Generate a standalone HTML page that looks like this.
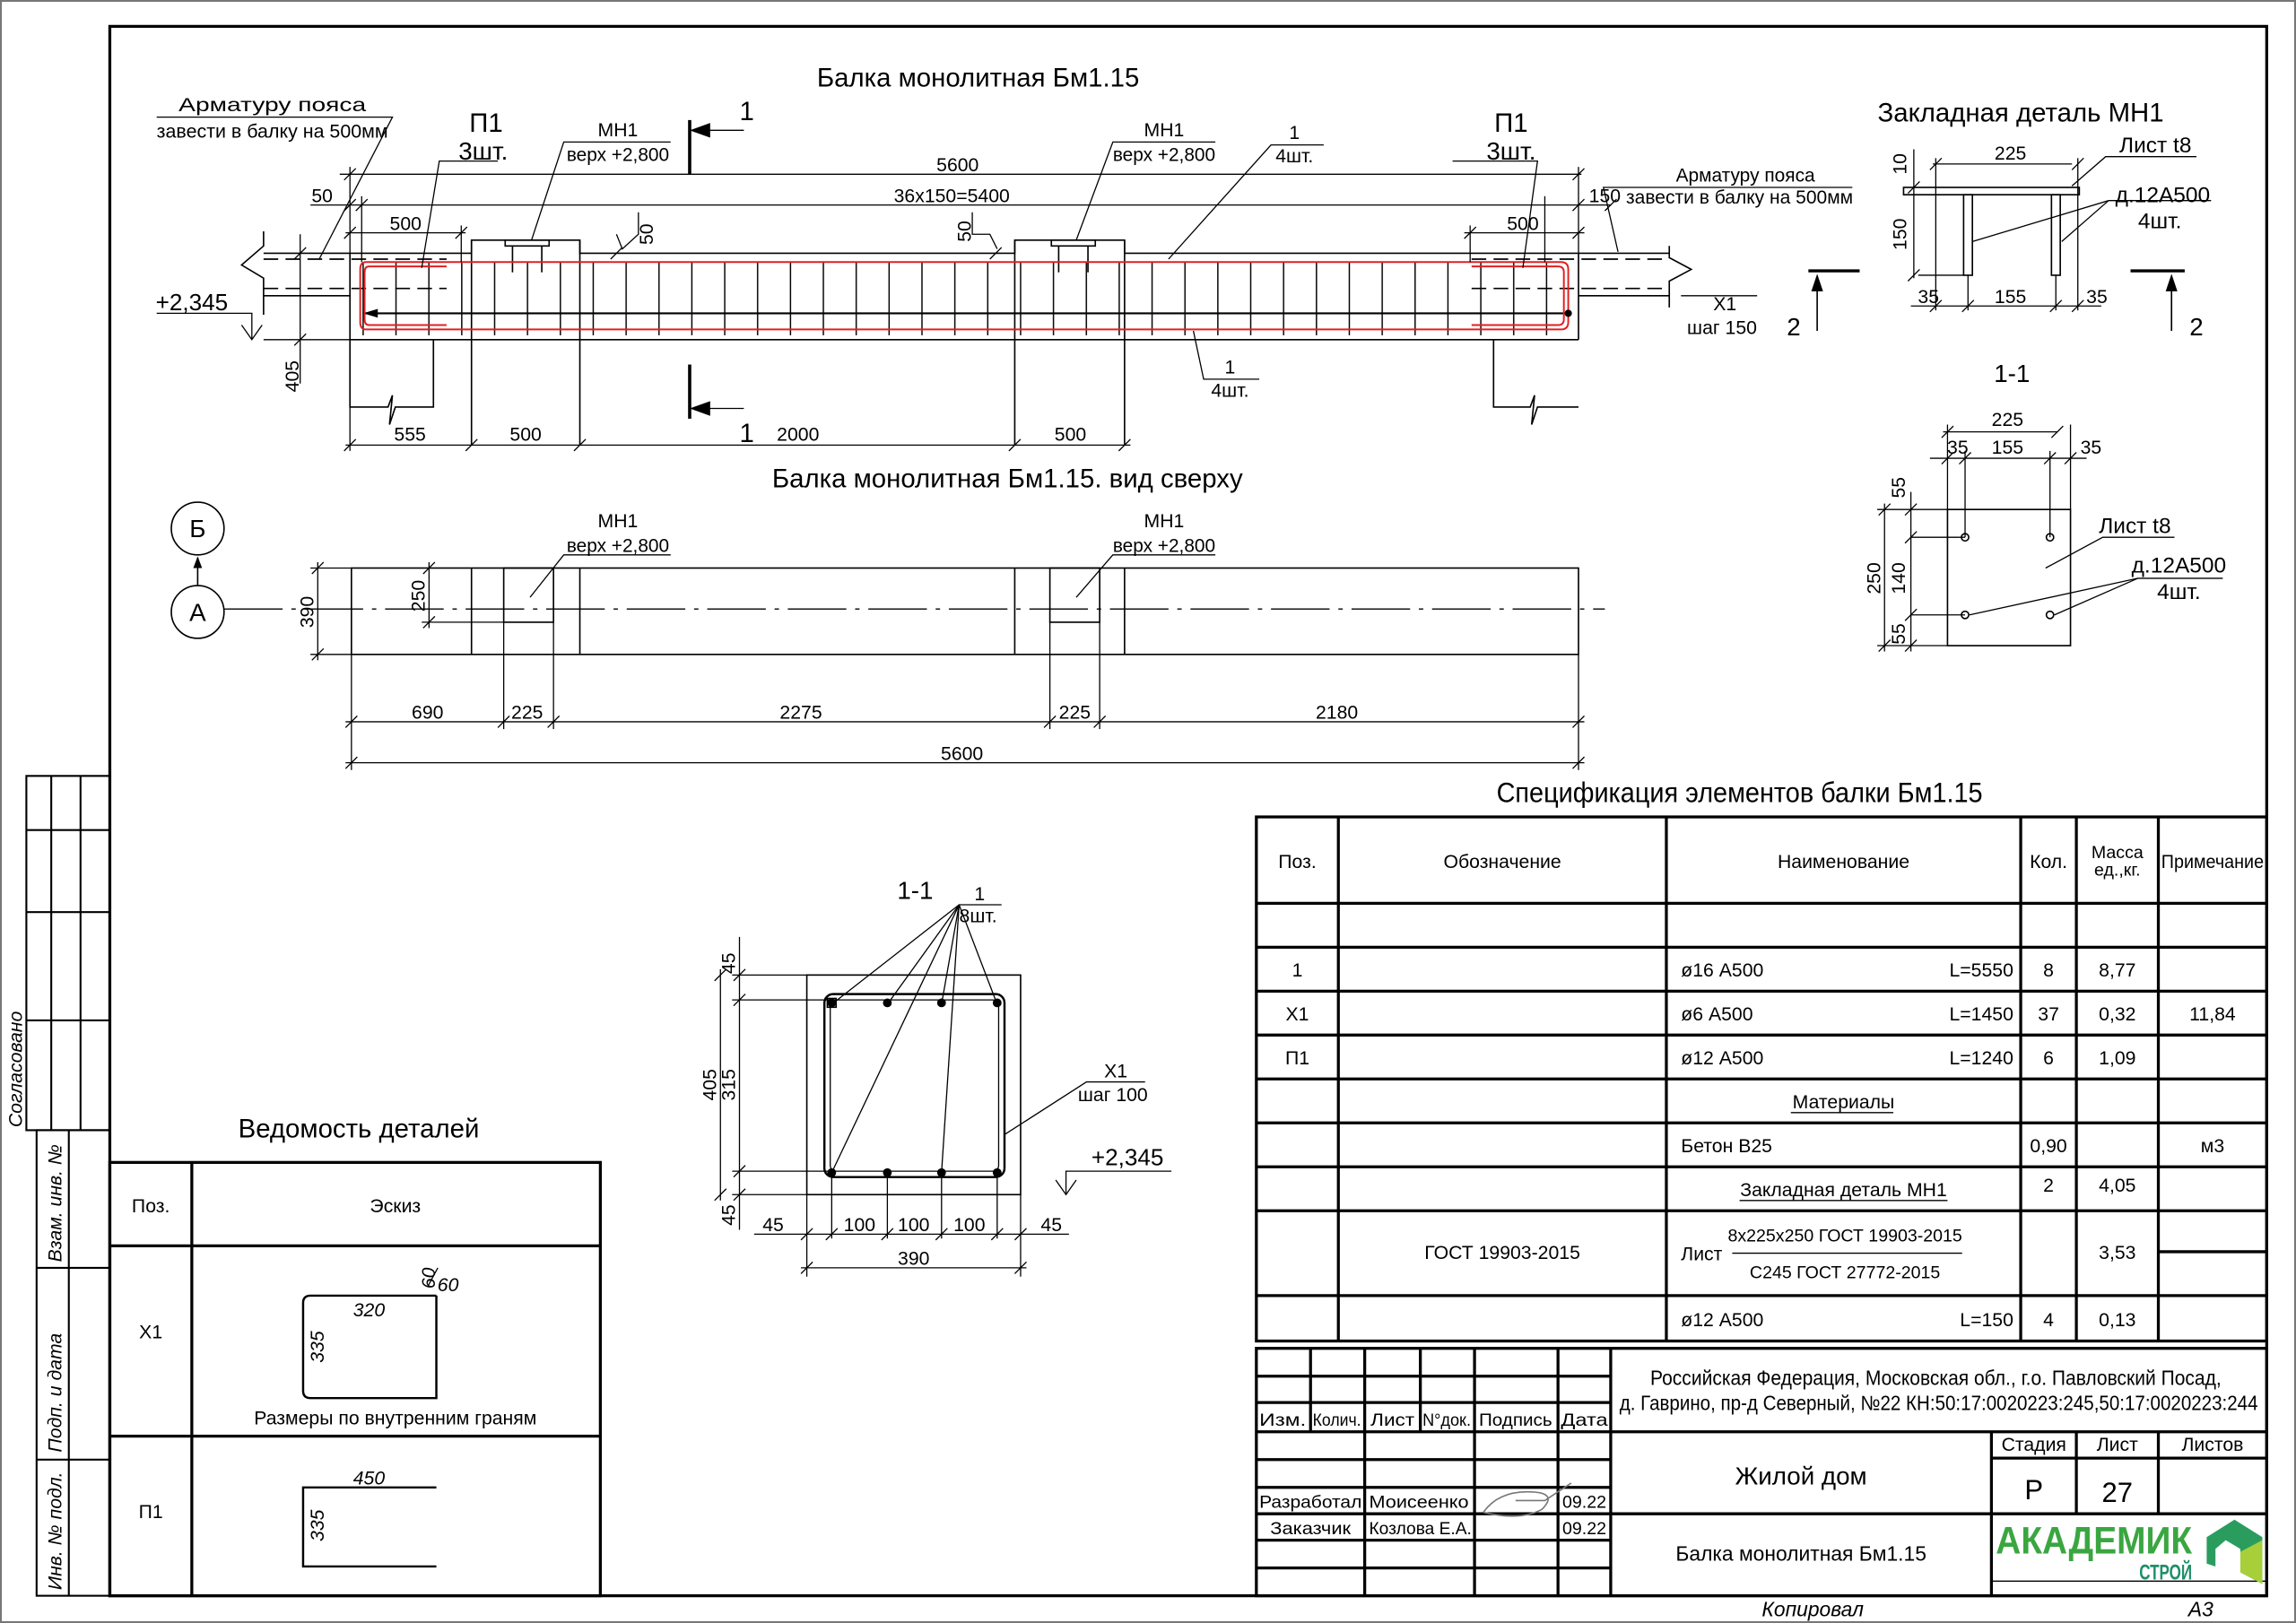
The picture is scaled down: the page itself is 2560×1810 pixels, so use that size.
<!DOCTYPE html>
<html><head><meta charset="utf-8"><style>
html,body{margin:0;padding:0;background:#fff}
svg{display:block}
text{font-family:"Liberation Sans Narrow","Liberation Sans","DejaVu Sans",sans-serif;fill:#000}
</style></head><body>
<svg width="2560" height="1810" viewBox="0 0 1568 1108.6" xmlns="http://www.w3.org/2000/svg">
<defs>
<pattern id="st" x="247.5" y="0" width="22.45" height="10" patternUnits="userSpaceOnUse"><line x1="0.5" y1="0" x2="0.5" y2="10" stroke="#000" stroke-width="0.9"/></pattern>
</defs>
<rect x="0.5" y="0.5" width="1567" height="1107.6" fill="#fff" stroke="#777" stroke-width="1.5"/>
<rect x="75" y="18" width="1473" height="1072" fill="none" stroke="#000" stroke-width="2"/>

<!-- left strip -->
<g stroke="#000" stroke-width="1.3" fill="none">
<rect x="18" y="530" width="57" height="242"/>
<line x1="35" y1="530" x2="35" y2="772"/><line x1="55" y1="530" x2="55" y2="772"/>
<line x1="18" y1="567" x2="75" y2="567"/><line x1="18" y1="623" x2="75" y2="623"/><line x1="18" y1="697" x2="75" y2="697"/>
<rect x="25" y="772" width="50" height="318"/><line x1="47" y1="772" x2="47" y2="1090"/>
<line x1="25" y1="866" x2="75" y2="866"/><line x1="25" y1="997" x2="75" y2="997"/>
</g>
<g font-size="13" font-style="italic">
<text transform="translate(15,770) rotate(-90)">Согласовано</text>
<text transform="translate(42,862) rotate(-90)">Взам. инв. №</text>
<text transform="translate(42,992) rotate(-90)">Подп. и дата</text>
<text transform="translate(42,1086) rotate(-90)">Инв. № подл.</text>
</g>

<!-- ELEVATION -->
<text x="668" y="59" font-size="18" text-anchor="middle">Балка монолитная Бм1.15</text>
<g stroke="#000" stroke-width="1" fill="none">
<polyline points="180,173 322,173 322,164 396,164 396,173 693,173 693,164 768,164 768,173 1078,173"/>
<line x1="239" y1="232" x2="1078" y2="232"/>
<line x1="239" y1="173" x2="239" y2="232"/>
<line x1="1078" y1="173" x2="1078" y2="232"/>
<line x1="322" y1="164" x2="322" y2="304"/><line x1="396" y1="164" x2="396" y2="304"/>
<line x1="693" y1="164" x2="693" y2="304"/><line x1="768" y1="164" x2="768" y2="304"/>
<line x1="180" y1="202" x2="239" y2="202"/>
<polyline points="180,158 180,168 165,181 180,190 180,202 180,215"/>
<line x1="180" y1="177" x2="305" y2="177" stroke-dasharray="10,5"/>
<line x1="180" y1="197" x2="305" y2="197" stroke-dasharray="10,5"/>
<line x1="1078" y1="202" x2="1140" y2="202"/>
<polyline points="1140,168 1140,176 1155,184 1140,192 1140,210"/>
<line x1="1005" y1="177" x2="1140" y2="177" stroke-dasharray="10,5"/>
<line x1="1005" y1="197" x2="1140" y2="197" stroke-dasharray="10,5"/>
<line x1="1078" y1="173" x2="1140" y2="173"/>
<polyline points="239,232 239,278 265,278 268,270 266,290 270,278 296,278 296,232"/>
<polyline points="1020,232 1020,278 1045,278 1048,270 1046,290 1050,278 1078,278"/>
<rect x="247" y="179" width="815" height="50" fill="url(#st)" stroke="none"/>
<rect x="345" y="164" width="30" height="4"/><rect x="718" y="164" width="30" height="4"/>
<line x1="350" y1="168" x2="350" y2="186"/><line x1="370" y1="168" x2="370" y2="186"/>
<line x1="723" y1="168" x2="723" y2="186"/><line x1="743" y1="168" x2="743" y2="186"/>
<line x1="248" y1="214" x2="1070" y2="214" stroke-width="1.3"/>
</g>
<path d="M248,214 l10,-3 v6z" fill="#000"/>
<g stroke="#e02020" stroke-width="1.2" fill="none">
<path d="M250,179 H1066 Q1071,179 1071,184 V220 Q1071,225 1066,225 H250 Q246,225 246,220 V184 Q246,179 250,179z"/>
<path d="M305,182 H252 Q249,182 249,186 V218 Q249,222 252,222 H305"/>
<path d="M1005,182 H1064 Q1068,182 1068,186 V218 Q1068,222 1064,222 H1005"/>
</g>
<circle cx="1071" cy="214" r="2.5" fill="#000"/>
<g stroke="#000" stroke-width="0.8" fill="none">
<line x1="232" y1="119" x2="1080" y2="119"/>
<line x1="212" y1="140" x2="1100" y2="140"/>
<line x1="236" y1="159" x2="318" y2="159"/>
<line x1="1000" y1="159" x2="1082" y2="159"/>
<line x1="236" y1="304" x2="772" y2="304"/>
<line x1="239" y1="114" x2="239" y2="308"/>
<line x1="247" y1="134" x2="247" y2="179"/>
<line x1="1078" y1="114" x2="1078" y2="173"/>
<line x1="1055" y1="134" x2="1055" y2="179"/>
<line x1="315" y1="154" x2="315" y2="179"/>
<line x1="1004" y1="154" x2="1004" y2="179"/>
<line x1="205" y1="160" x2="205" y2="262"/>
<line x1="180" y1="232" x2="239" y2="232"/>
<path d="M235,123 l8,-8 M235,144 l8,-8 M243,144 l8,-8 M1074,123 l8,-8 M1074,144 l8,-8 M1096,144 l8,-8 M235,163 l8,-8 M311,163 l8,-8 M1000,163 l8,-8 M1074,163 l8,-8 M235,308 l8,-8 M318,308 l8,-8 M392,308 l8,-8 M689,308 l8,-8 M764,308 l8,-8 M201,177 l8,-8 M201,236 l8,-8 M417,177 l8,-8 M676,177 l8,-8"/>
<polyline points="421,160 425,170 436,160 436,145"/>
<polyline points="681,170 676,160 664,160 664,145"/>
<polyline points="107,214 172,214 172,232"/>
<path d="M165,222 l7,10 l7,-10"/>
<line x1="471" y1="82" x2="471" y2="119" stroke-width="2.2"/>
<line x1="471" y1="249" x2="471" y2="286" stroke-width="2.2"/>
<line x1="480" y1="89" x2="508" y2="89"/><line x1="480" y1="279" x2="508" y2="279"/>
<polyline points="107,80 268,80 218,177"/>
<polyline points="340,110 300,110 288,183"/>
<polyline points="458,97 385,97 363,164"/>
<polyline points="830,97 760,97 735,164"/>
<polyline points="904,99 868,99 798,177"/>
<polyline points="992,110 1050,110 1040,183"/>
<polyline points="1265,128 1095,128 1105,172"/>
<polyline points="1200,202 1148,202"/>
<polyline points="860,259 822,259 815,226"/>
</g>
<path d="M471,89 l14,-5 v10z M471,279 l14,-5 v10z" fill="#000"/>
<g font-size="13">
<text x="186" y="76" text-anchor="middle" textLength="128" lengthAdjust="spacingAndGlyphs">Арматуру пояса</text>
<text x="186" y="94" text-anchor="middle" textLength="158" lengthAdjust="spacingAndGlyphs">завести в балку на 500мм</text>
<text x="332" y="90" font-size="18" text-anchor="middle">П1</text>
<text x="330" y="109" font-size="17" text-anchor="middle">3шт.</text>
<text x="422" y="93" text-anchor="middle">МН1</text>
<text x="422" y="110" text-anchor="middle" textLength="70" lengthAdjust="spacingAndGlyphs">верх +2,800</text>
<text x="795" y="93" text-anchor="middle">МН1</text>
<text x="795" y="110" text-anchor="middle" textLength="70" lengthAdjust="spacingAndGlyphs">верх +2,800</text>
<text x="884" y="95" text-anchor="middle">1</text>
<text x="884" y="111" text-anchor="middle">4шт.</text>
<text x="1032" y="90" font-size="18" text-anchor="middle">П1</text>
<text x="1032" y="109" font-size="17" text-anchor="middle">3шт.</text>
<text x="510" y="82" font-size="18" text-anchor="middle">1</text>
<text x="510" y="302" font-size="18" text-anchor="middle">1</text>
<text x="654" y="117" text-anchor="middle">5600</text>
<text x="650" y="138" text-anchor="middle">36x150=5400</text>
<text x="220" y="138" text-anchor="middle">50</text>
<text x="277" y="157" text-anchor="middle">500</text>
<text x="1040" y="157" text-anchor="middle">500</text>
<text x="1096" y="138" text-anchor="middle">150</text>
<text x="1192" y="124" text-anchor="middle" textLength="95" lengthAdjust="spacingAndGlyphs">Арматуру пояса</text>
<text x="1188" y="139" text-anchor="middle" textLength="155" lengthAdjust="spacingAndGlyphs">завести в балку на 500мм</text>
<text x="1178" y="212" text-anchor="middle">Х1</text>
<text x="1176" y="228" text-anchor="middle">шаг 150</text>
<text x="131" y="212" font-size="16" text-anchor="middle">+2,345</text>
<text transform="translate(446,160) rotate(-90)" text-anchor="middle">50</text>
<text transform="translate(663,158) rotate(-90)" text-anchor="middle">50</text>
<text transform="translate(204,257) rotate(-90)" text-anchor="middle">405</text>
<text x="280" y="301" text-anchor="middle">555</text>
<text x="359" y="301" text-anchor="middle">500</text>
<text x="545" y="301" text-anchor="middle">2000</text>
<text x="731" y="301" text-anchor="middle">500</text>
<text x="840" y="255" text-anchor="middle">1</text>
<text x="840" y="271" text-anchor="middle">4шт.</text>
</g>

<!-- PLAN VIEW -->
<text x="688" y="333" font-size="18" text-anchor="middle">Балка монолитная Бм1.15. вид сверху</text>
<g stroke="#000" stroke-width="1" fill="none">
<rect x="240" y="388" width="838" height="59"/>
<line x1="322" y1="388" x2="322" y2="447"/><line x1="396" y1="388" x2="396" y2="447"/>
<line x1="693" y1="388" x2="693" y2="447"/><line x1="768" y1="388" x2="768" y2="447"/>
<rect x="344" y="388" width="34" height="37"/><rect x="717" y="388" width="34" height="37"/>
<line x1="153" y1="416" x2="1096" y2="416" stroke-dasharray="40,6,3,6" stroke-width="0.8"/>
<circle cx="135" cy="418" r="18"/><circle cx="135" cy="361" r="18"/>
<line x1="135" y1="400" x2="135" y2="381"/>
<g stroke-width="0.8">
<line x1="212" y1="388" x2="240" y2="388"/><line x1="212" y1="447" x2="240" y2="447"/>
<line x1="217" y1="384" x2="217" y2="451"/>
<line x1="288" y1="425" x2="344" y2="425"/>
<line x1="293" y1="384" x2="293" y2="429"/>
<line x1="236" y1="493" x2="1082" y2="493"/>
<line x1="236" y1="521" x2="1082" y2="521"/>
<line x1="240" y1="447" x2="240" y2="526"/><line x1="1078" y1="447" x2="1078" y2="526"/>
<line x1="344" y1="425" x2="344" y2="498"/><line x1="378" y1="425" x2="378" y2="498"/>
<line x1="717" y1="425" x2="717" y2="498"/><line x1="751" y1="425" x2="751" y2="498"/>
<path d="M213,392 l8,-8 M213,451 l8,-8 M289,392 l8,-8 M289,429 l8,-8 M236,497 l8,-8 M340,497 l8,-8 M374,497 l8,-8 M713,497 l8,-8 M747,497 l8,-8 M1074,497 l8,-8 M236,525 l8,-8 M1074,525 l8,-8"/>
<polyline points="458,379 385,379 362,408"/>
<polyline points="830,379 760,379 735,408"/>
</g>
</g>
<path d="M135,380 l-3,8 h6z" fill="#000"/>
<g font-size="13">
<text x="135" y="367" font-size="17" text-anchor="middle">Б</text>
<text x="135" y="424" font-size="17" text-anchor="middle">А</text>
<text x="422" y="360" text-anchor="middle">МН1</text>
<text x="422" y="377" text-anchor="middle" textLength="70" lengthAdjust="spacingAndGlyphs">верх +2,800</text>
<text x="795" y="360" text-anchor="middle">МН1</text>
<text x="795" y="377" text-anchor="middle" textLength="70" lengthAdjust="spacingAndGlyphs">верх +2,800</text>
<text transform="translate(214,418) rotate(-90)" text-anchor="middle">390</text>
<text transform="translate(290,407) rotate(-90)" text-anchor="middle">250</text>
<text x="292" y="491" text-anchor="middle">690</text>
<text x="360" y="491" text-anchor="middle">225</text>
<text x="547" y="491" text-anchor="middle">2275</text>
<text x="734" y="491" text-anchor="middle">225</text>
<text x="913" y="491" text-anchor="middle">2180</text>
<text x="657" y="519" text-anchor="middle">5600</text>
</g>

<!-- Закладная деталь МН1 -->
<text x="1380" y="83" font-size="18" text-anchor="middle">Закладная деталь МН1</text>
<g stroke="#000" stroke-width="1" fill="none">
<rect x="1300" y="128" width="120" height="5"/>
<rect x="1341" y="133" width="6" height="55"/><rect x="1401" y="133" width="6" height="55"/>
<g stroke-width="0.8">
<line x1="1310" y1="188" x2="1341" y2="188"/>
<line x1="1307" y1="102" x2="1307" y2="190"/>
<line x1="1320" y1="112" x2="1415" y2="112"/>
<line x1="1322" y1="108" x2="1322" y2="212"/><line x1="1419" y1="108" x2="1419" y2="212"/>
<line x1="1344" y1="188" x2="1344" y2="212"/><line x1="1404" y1="188" x2="1404" y2="212"/>
<line x1="1305" y1="209" x2="1435" y2="209"/>
<path d="M1303,132 l8,-8 M1303,192 l8,-8 M1318,116 l8,-8 M1415,116 l8,-8 M1318,213 l8,-8 M1340,213 l8,-8 M1400,213 l8,-8 M1415,213 l8,-8"/>
<polyline points="1500,107 1438,107 1415,127"/>
<polyline points="1510,137 1440,137 1347,165"/>
<line x1="1440" y1="137" x2="1408" y2="165"/>
</g>
<line x1="1235" y1="185" x2="1270" y2="185" stroke-width="2"/>
<line x1="1455" y1="185" x2="1492" y2="185" stroke-width="2"/>
<line x1="1241" y1="195" x2="1241" y2="226"/><line x1="1483" y1="195" x2="1483" y2="226"/>
</g>
<path d="M1241,187 l-4,12 h8z M1483,187 l-4,12 h8z" fill="#000"/>
<g font-size="13">
<text x="1373" y="109" text-anchor="middle">225</text>
<text transform="translate(1302,112) rotate(-90)" text-anchor="middle">10</text>
<text transform="translate(1302,160) rotate(-90)" text-anchor="middle">150</text>
<text x="1317" y="207" text-anchor="middle">35</text>
<text x="1373" y="207" text-anchor="middle">155</text>
<text x="1432" y="207" text-anchor="middle">35</text>
<text x="1472" y="104" font-size="15" text-anchor="middle">Лист t8</text>
<text x="1477" y="138" font-size="15" text-anchor="middle">д.12А500</text>
<text x="1475" y="156" font-size="15" text-anchor="middle">4шт.</text>
<text x="1225" y="229" font-size="17" text-anchor="middle">2</text>
<text x="1500" y="229" font-size="17" text-anchor="middle">2</text>
</g>

<!-- 1-1 plate -->
<text x="1374" y="261" font-size="17" text-anchor="middle">1-1</text>
<g stroke="#000" stroke-width="1" fill="none">
<rect x="1330" y="348" width="84" height="93"/>
<g stroke-width="0.8">
<line x1="1327" y1="295" x2="1405" y2="295"/>
<line x1="1318" y1="313" x2="1425" y2="313"/>
<line x1="1330" y1="290" x2="1330" y2="348"/><line x1="1414" y1="290" x2="1414" y2="348"/>
<line x1="1342" y1="308" x2="1342" y2="367"/><line x1="1400" y1="308" x2="1400" y2="367"/>
<line x1="1282" y1="348" x2="1330" y2="348"/><line x1="1282" y1="441" x2="1330" y2="441"/>
<line x1="1287" y1="344" x2="1287" y2="445"/>
<line x1="1305" y1="336" x2="1305" y2="445"/>
<line x1="1305" y1="367" x2="1342" y2="367"/><line x1="1305" y1="420" x2="1342" y2="420"/>
<path d="M1326,299 l8,-8 M1401,299 l8,-8 M1326,317 l8,-8 M1338,317 l8,-8 M1396,317 l8,-8 M1410,317 l8,-8 M1283,352 l8,-8 M1283,445 l8,-8 M1301,352 l8,-8 M1301,371 l8,-8 M1301,424 l8,-8 M1301,445 l8,-8"/>
<polyline points="1485,367 1436,367 1397,388"/>
<polyline points="1518,395 1460,395 1345,420"/>
<line x1="1460" y1="395" x2="1403" y2="420"/>
</g>
<circle cx="1342" cy="367" r="2.5"/><circle cx="1400" cy="367" r="2.5"/>
<circle cx="1342" cy="420" r="2.5"/><circle cx="1400" cy="420" r="2.5"/>
</g>
<g font-size="13">
<text x="1371" y="291" text-anchor="middle">225</text>
<text x="1337" y="310" text-anchor="middle">35</text>
<text x="1371" y="310" text-anchor="middle">155</text>
<text x="1428" y="310" text-anchor="middle">35</text>
<text transform="translate(1284,395) rotate(-90)" text-anchor="middle">250</text>
<text transform="translate(1301,333) rotate(-90)" text-anchor="middle">55</text>
<text transform="translate(1301,395) rotate(-90)" text-anchor="middle">140</text>
<text transform="translate(1301,433) rotate(-90)" text-anchor="middle">55</text>
<text x="1458" y="364" font-size="15" text-anchor="middle">Лист t8</text>
<text x="1488" y="391" font-size="15" text-anchor="middle">д.12А500</text>
<text x="1488" y="409" font-size="15" text-anchor="middle">4шт.</text>
</g>

<!-- Section 1-1 beam -->
<text x="625" y="614" font-size="17" text-anchor="middle">1-1</text>
<g stroke="#000" stroke-width="1" fill="none">
<rect x="551" y="666" width="146" height="150"/>
<rect x="563" y="679" width="123" height="125" rx="6" stroke-width="1.5"/>
<rect x="567" y="683" width="115" height="117" rx="4" stroke-width="0.8"/>
<g stroke-width="0.8">
<line x1="500" y1="666" x2="551" y2="666"/><line x1="500" y1="816" x2="551" y2="816"/>
<line x1="500" y1="683" x2="568" y2="683"/><line x1="500" y1="800" x2="568" y2="800"/>
<line x1="492" y1="662" x2="492" y2="820"/>
<line x1="505" y1="640" x2="505" y2="840"/>
<line x1="551" y1="816" x2="551" y2="872"/><line x1="697" y1="816" x2="697" y2="872"/>
<line x1="568" y1="801" x2="568" y2="846"/><line x1="606" y1="801" x2="606" y2="846"/>
<line x1="643" y1="801" x2="643" y2="846"/><line x1="681" y1="801" x2="681" y2="846"/>
<line x1="515" y1="843" x2="730" y2="843"/>
<line x1="547" y1="866" x2="701" y2="866"/>
<path d="M488,670 l8,-8 M488,820 l8,-8 M501,670 l8,-8 M501,687 l8,-8 M501,804 l8,-8 M501,820 l8,-8 M547,847 l8,-8 M564,847 l8,-8 M602,847 l8,-8 M639,847 l8,-8 M677,847 l8,-8 M693,847 l8,-8 M547,870 l8,-8 M693,870 l8,-8"/>
<polyline points="684,618 655,618 568,686"/>
<line x1="655" y1="618" x2="568" y2="801"/><line x1="655" y1="618" x2="606" y2="686"/>
<line x1="655" y1="618" x2="643" y2="686"/><line x1="655" y1="618" x2="643" y2="801"/>
<line x1="655" y1="618" x2="681" y2="686"/>
<polyline points="782,739 742,739 686,775"/>
<polyline points="800,800 728,800 728,815"/>
<path d="M721,806 l7,10 l7,-10"/>
</g>
<rect x="565" y="682" width="6" height="6"/>
</g>
<g fill="#000"><circle cx="568" cy="685" r="3"/><circle cx="606" cy="685" r="3"/><circle cx="643" cy="685" r="3"/><circle cx="681" cy="685" r="3"/>
<circle cx="568" cy="801" r="3"/><circle cx="606" cy="801" r="3"/><circle cx="643" cy="801" r="3"/><circle cx="681" cy="801" r="3"/></g>
<g font-size="13">
<text x="669" y="615" text-anchor="middle">1</text>
<text x="668" y="630" text-anchor="middle">8шт.</text>
<text transform="translate(489,741) rotate(-90)" text-anchor="middle">405</text>
<text transform="translate(502,658) rotate(-90)" text-anchor="middle">45</text>
<text transform="translate(502,741) rotate(-90)" text-anchor="middle">315</text>
<text transform="translate(502,830) rotate(-90)" text-anchor="middle">45</text>
<text x="528" y="841" text-anchor="middle">45</text>
<text x="587" y="841" text-anchor="middle">100</text>
<text x="624" y="841" text-anchor="middle">100</text>
<text x="662" y="841" text-anchor="middle">100</text>
<text x="718" y="841" text-anchor="middle">45</text>
<text x="624" y="864" text-anchor="middle">390</text>
<text x="762" y="736" text-anchor="middle">Х1</text>
<text x="760" y="752" text-anchor="middle">шаг 100</text>
<text x="770" y="796" font-size="16" text-anchor="middle">+2,345</text>
</g>

<!-- Ведомость деталей -->
<text x="245" y="777" font-size="18" text-anchor="middle">Ведомость деталей</text>
<g stroke="#000" stroke-width="2" fill="none">
<rect x="75" y="794" width="335" height="296"/>
<line x1="131" y1="794" x2="131" y2="1090"/>
<line x1="75" y1="851" x2="410" y2="851"/><line x1="75" y1="981" x2="410" y2="981"/>
<path d="M298,885 H212 Q207,885 207,890 V950 Q207,955 212,955 H298 V885" stroke-width="1.5"/>
<path d="M298,1016 H207 V1070 H298" stroke-width="1.5"/>
<line x1="292" y1="879" x2="299" y2="866" stroke-width="0.8"/>
</g>
<g font-size="13">
<text x="103" y="828" text-anchor="middle">Поз.</text>
<text x="270" y="828" text-anchor="middle">Эскиз</text>
<text x="103" y="914" text-anchor="middle">Х1</text>
<text x="103" y="1037" text-anchor="middle">П1</text>
<text x="252" y="899" font-style="italic" text-anchor="middle">320</text>
<text transform="translate(221,920) rotate(-90)" font-style="italic" text-anchor="middle">335</text>
<text transform="translate(297,873) rotate(-90)" font-style="italic" text-anchor="middle">60</text>
<text x="306" y="882" font-style="italic" text-anchor="middle">60</text>
<text x="270" y="973" text-anchor="middle">Размеры по внутренним граням</text>
<text x="252" y="1014" font-style="italic" text-anchor="middle">450</text>
<text transform="translate(221,1042) rotate(-90)" font-style="italic" text-anchor="middle">335</text>
</g>

<!-- Specification -->
<text x="1188" y="548" font-size="19" text-anchor="middle" textLength="332" lengthAdjust="spacingAndGlyphs">Спецификация элементов балки Бм1.15</text>
<g stroke="#000" stroke-width="2" fill="none">
<rect x="858" y="558" width="690" height="358"/>
<path d="M914,558 V916 M1138,558 V916 M1380,558 V916 M1418,558 V916 M1474,558 V916"/>
<path d="M858,617 H1548 M858,647 H1548 M858,677 H1548 M858,707 H1548 M858,737 H1548 M858,767 H1548 M858,797 H1548 M858,827 H1548 M858,885 H1548 M1474,855 H1548"/>
<line x1="1183" y1="856" x2="1340" y2="856" stroke-width="0.8"/>
<line x1="1223" y1="760" x2="1293" y2="760" stroke-width="0.8"/>
<line x1="1188" y1="820" x2="1330" y2="820" stroke-width="0.8"/>
</g>
<g font-size="13">
<text x="886" y="593" text-anchor="middle">Поз.</text>
<text x="1026" y="593" text-anchor="middle">Обозначение</text>
<text x="1259" y="593" text-anchor="middle">Наименование</text>
<text x="1399" y="593" text-anchor="middle">Кол.</text>
<text x="1446" y="586" font-size="12" text-anchor="middle">Масса</text>
<text x="1446" y="598" font-size="12" text-anchor="middle">ед.,кг.</text>
<text x="1511" y="593" text-anchor="middle" textLength="70" lengthAdjust="spacingAndGlyphs">Примечание</text>
<text x="886" y="667" text-anchor="middle">1</text>
<text x="1148" y="667">ø16  А500</text><text x="1375" y="667" text-anchor="end">L=5550</text>
<text x="1399" y="667" text-anchor="middle">8</text><text x="1446" y="667" text-anchor="middle">8,77</text>
<text x="886" y="697" text-anchor="middle">Х1</text>
<text x="1148" y="697">ø6 А500</text><text x="1375" y="697" text-anchor="end">L=1450</text>
<text x="1399" y="697" text-anchor="middle">37</text><text x="1446" y="697" text-anchor="middle">0,32</text><text x="1511" y="697" text-anchor="middle">11,84</text>
<text x="886" y="727" text-anchor="middle">П1</text>
<text x="1148" y="727">ø12  А500</text><text x="1375" y="727" text-anchor="end">L=1240</text>
<text x="1399" y="727" text-anchor="middle">6</text><text x="1446" y="727" text-anchor="middle">1,09</text>
<text x="1259" y="757" text-anchor="middle">Материалы</text>
<text x="1148" y="787">Бетон В25</text>
<text x="1399" y="787" text-anchor="middle">0,90</text><text x="1511" y="787" text-anchor="middle">м3</text>
<text x="1259" y="817" text-anchor="middle">Закладная деталь МН1</text>
<text x="1399" y="814" text-anchor="middle">2</text><text x="1446" y="814" text-anchor="middle">4,05</text>
<text x="1026" y="860" text-anchor="middle">ГОСТ 19903-2015</text>
<text x="1148" y="861">Лист</text>
<text x="1260" y="848" font-size="12" text-anchor="middle">8х225х250 ГОСТ 19903-2015</text>
<text x="1260" y="873" font-size="12" text-anchor="middle">С245 ГОСТ 27772-2015</text>
<text x="1446" y="860" text-anchor="middle">3,53</text>
<text x="1148" y="906">ø12  А500</text><text x="1375" y="906" text-anchor="end">L=150</text>
<text x="1399" y="906" text-anchor="middle">4</text><text x="1446" y="906" text-anchor="middle">0,13</text>
</g>

<!-- Title block -->
<g stroke="#000" stroke-width="2" fill="none">
<rect x="858" y="921" width="690" height="169"/>
<path d="M895,921 V978 M932,921 V1090 M970,921 V978 M1007,921 V1090 M1064,921 V1090 M1100,921 V1090"/>
<path d="M858,940 H1100 M858,958 H1100 M858,978 H1548 M858,997 H1100 M858,1016 H1100 M858,1034 H1548 M858,1052 H1100 M858,1071 H1100"/>
<path d="M1360,978 V1034 M1418,978 V1034 M1474,978 V1034 M1360,996 H1548 M1360,1034 V1090"/>
<line x1="1360" y1="1080" x2="1548" y2="1080" stroke-width="0.8"/>
<path d="M1013,1033 q10,-14 30,-14 q22,0 10,12 q-15,8 -40,2 M1035,1025 h20 l18,-12" stroke="#777" stroke-width="1"/>
</g>
<g font-size="12">
<text x="876" y="974" text-anchor="middle" textLength="32" lengthAdjust="spacingAndGlyphs">Изм.</text>
<text x="913" y="974" text-anchor="middle" textLength="33" lengthAdjust="spacingAndGlyphs">Колич.</text>
<text x="951" y="974" text-anchor="middle" textLength="30" lengthAdjust="spacingAndGlyphs">Лист</text>
<text x="988" y="974" text-anchor="middle" textLength="33" lengthAdjust="spacingAndGlyphs">N°док.</text>
<text x="1035" y="974" text-anchor="middle" textLength="50" lengthAdjust="spacingAndGlyphs">Подпись</text>
<text x="1082" y="974" text-anchor="middle" textLength="32" lengthAdjust="spacingAndGlyphs">Дата</text>
<text x="1322" y="946" font-size="14" text-anchor="middle" textLength="390" lengthAdjust="spacingAndGlyphs">Российская Федерация, Московская обл., г.о. Павловский Посад,</text>
<text x="1324" y="963" font-size="14" text-anchor="middle" textLength="436" lengthAdjust="spacingAndGlyphs">д. Гаврино, пр-д Северный, №22 КН:50:17:0020223:245,50:17:0020223:244</text>
<text x="895" y="1030" text-anchor="middle" textLength="70" lengthAdjust="spacingAndGlyphs">Разработал</text>
<text x="969" y="1030" text-anchor="middle" textLength="68" lengthAdjust="spacingAndGlyphs">Моисеенко</text>
<text x="1082" y="1030" text-anchor="middle">09.22</text>
<text x="895" y="1048" text-anchor="middle" textLength="55" lengthAdjust="spacingAndGlyphs">Заказчик</text>
<text x="970" y="1048" text-anchor="middle" textLength="70" lengthAdjust="spacingAndGlyphs">Козлова Е.А.</text>
<text x="1082" y="1048" text-anchor="middle">09.22</text>
<text x="1230" y="1014" font-size="17" text-anchor="middle">Жилой дом</text>
<text x="1389" y="991" font-size="13" text-anchor="middle">Стадия</text>
<text x="1446" y="991" font-size="13" text-anchor="middle">Лист</text>
<text x="1511" y="991" font-size="13" text-anchor="middle">Листов</text>
<text x="1389" y="1024" font-size="19" text-anchor="middle">Р</text>
<text x="1446" y="1026" font-size="19" text-anchor="middle">27</text>
<text x="1230" y="1066" font-size="14" text-anchor="middle">Балка монолитная Бм1.15</text>
<text x="1238" y="1104" font-size="14" font-style="italic" text-anchor="middle">Копировал</text>
<text x="1503" y="1104" font-size="14" font-style="italic" text-anchor="middle">А3</text>
<text x="1430" y="1061" font-size="26" font-weight="bold" style="fill:#3aa640" text-anchor="middle" textLength="134" lengthAdjust="spacingAndGlyphs">АКАДЕМИК</text>
<text x="1479" y="1079" font-size="15" font-weight="bold" style="fill:#1f8f6a" text-anchor="middle" textLength="36" lengthAdjust="spacingAndGlyphs">СТРОЙ</text>
</g>
<path d="M1507,1050 L1526,1038 L1545,1050 V1082 L1530,1074 V1058 L1520,1052 L1513,1058 V1070 L1507,1068z" fill="#2a9d5e"/>
<path d="M1530,1060 L1545,1052 V1082 L1530,1074z" fill="#a6cf3a"/>
</svg>
</body></html>
